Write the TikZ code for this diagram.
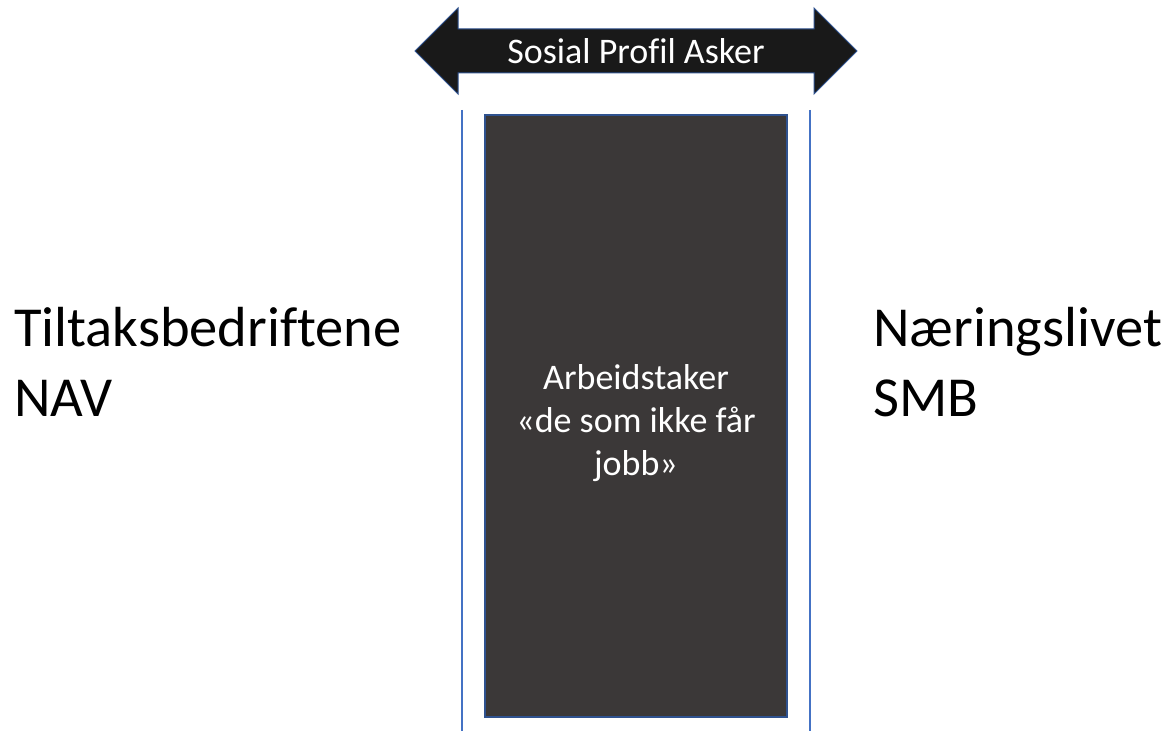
\documentclass[tikz,border=0pt]{standalone}
\usepackage{fontspec}
\setmainfont{Carlito}[Ligatures=NoCommon]
\usetikzlibrary{positioning}
\definecolor{boxgrey}{HTML}{3B3838}
\definecolor{edgeblue}{HTML}{2F528F}
\definecolor{lineblue}{HTML}{4472C4}
\tikzset{big text/.style={align=left,inner sep=0pt,font=\fontsize{56.5}{70}\selectfont},
            worker box/.style={rectangle,fill=boxgrey,draw=edgeblue,line width=1.5pt,minimum width=302pt,minimum height=602pt},
            box text/.style={text=white,align=center,font=\fontsize{36}{43}\selectfont},
            side line/.style={draw=lineblue,line width=2pt},
            }

\begin{document}
\begin{tikzpicture}[x=1pt,y=1pt]
\useasboundingbox (0,0) rectangle (1171,731);
 \node[worker box] (arb) at (636,315) {};
 \node[box text,yshift=-7pt] (arbtxt) at (arb.center) {Arbeidstaker\\«de som ikke får\\jobb»};
 \coordinate (lt) at (462,621);
 \coordinate (lb) at (462,0);
 \coordinate (rt) at (810,621);
 \coordinate (rb) at (810,0);
    \path[side line] (lt) -- (lb);
    \path[side line] (rt) -- (rb);
% double arrow on top
    \path[draw=edgeblue,fill=black!90,line width=1pt]
        (415,680) -- (458,723) -- (458,702) -- (814,702) -- (814,723) -- (857,680)
        -- (814,637) -- (814,658) -- (458,658) -- (458,637) -- cycle;
 \node[box text] (spa) at (636,680) {Sosial Profil Asker};
     \node[big text,anchor=base west] (tilt) at (14,314) {Tiltaksbedriftene\\NAV};
     \node[big text,anchor=base west] (nar) at (873,314) {Næringslivet\\SMB};
\end{tikzpicture}
\end{document}
